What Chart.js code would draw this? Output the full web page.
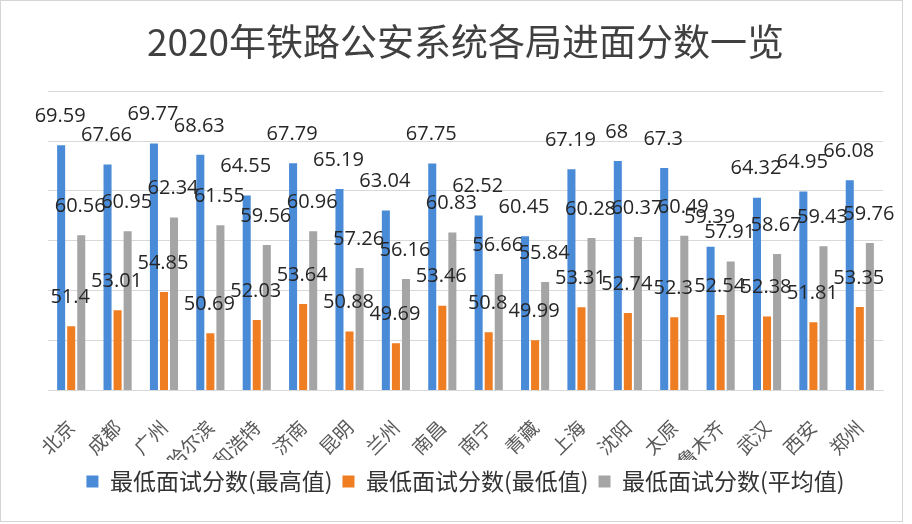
<!DOCTYPE html>
<html>
<head>
<meta charset="utf-8">
<script src="https://cdn.jsdelivr.net/npm/chart.js@4"></script>
<style>
  html, body { margin: 0; padding: 0; background: #ffffff; }
  #wrap { width: 912px; height: 524px; position: relative; }
</style>
</head>
<body>
<div id="wrap"><canvas id="c" width="912" height="524"></canvas></div>
<script>
const title = "2020年铁路公安系统各局进面分数一览";
const categories = ["北京","成都","广州","哈尔滨","呼和浩特","济南","昆明","兰州","南昌","南宁","青藏","上海","沈阳","太原","乌鲁木齐","武汉","西安","郑州"];
const seriesNames = ["最低面试分数(最高值)","最低面试分数(最低值)","最低面试分数(平均值)"];
const maxValues = [69.59,67.66,69.77,68.63,64.55,67.79,65.19,63.04,67.75,62.52,60.45,67.19,68,67.3,59.39,64.32,64.95,66.08];
const minValues = [51.4,53.01,54.85,50.69,52.03,53.64,50.88,49.69,53.46,50.8,49.99,53.31,52.74,52.3,52.54,52.38,51.81,53.35];
const avgValues = [60.56,60.95,62.34,61.55,59.56,60.96,57.26,56.16,60.83,56.66,55.84,60.28,60.37,60.49,57.91,58.67,59.43,59.76];
const yMin = 45, yMax = 75, yStep = 5;

const colors = ["#4a8bd8", "#ef7d22", "#a5a5a5"];

const frame = {
  id: 'frame',
  beforeDraw(chart) {
    const ctx = chart.ctx;
    ctx.save();
    ctx.fillStyle = '#ffffff';
    ctx.fillRect(0, 0, chart.width, chart.height);
    ctx.strokeStyle = '#d4d4d4';
    ctx.lineWidth = 1;
    ctx.strokeRect(0.5, 0.5, 902, 521);
    ctx.restore();
  }
};

const valueLabels = {
  id: 'valueLabels',
  afterDatasetsDraw(chart) {
    const ctx = chart.ctx;
    ctx.save();
    ctx.font = '20px "Open Sans"';
    ctx.fillStyle = '#262626';
    ctx.textAlign = 'center';
    ctx.textBaseline = 'bottom';
    chart.data.datasets.forEach((ds, di) => {
      const meta = chart.getDatasetMeta(di);
      meta.data.forEach((bar, i) => {
        ctx.fillText(String(ds.data[i]), bar.x - 1, bar.y - 19);
      });
    });
    ctx.restore();
  }
};

new Chart(document.getElementById('c'), {
  type: 'bar',
  data: {
    labels: categories,
    datasets: [
      { label: seriesNames[0], data: maxValues, backgroundColor: colors[0] },
      { label: seriesNames[1], data: minValues, backgroundColor: colors[1] },
      { label: seriesNames[2], data: avgValues, backgroundColor: colors[2] }
    ]
  },
  options: {
    responsive: false,
    animation: false,
    layout: { padding: { left: 48, right: 29, top: 0, bottom: 21 } },
    datasets: { bar: { categoryPercentage: 0.65, barPercentage: 0.8 } },
    plugins: {
      title: {
        display: true,
        text: title,
        color: '#404040',
        font: { family: '"Noto Sans CJK SC"', size: 37, weight: 'normal' },
        padding: { top: 20, bottom: 27 }
      },
      legend: {
        position: 'bottom',
        labels: {
          color: '#333333',
          font: { family: '"Noto Sans CJK SC"', size: 23 },
          boxWidth: 12,
          boxHeight: 12,
          padding: 10
        }
      },
      tooltip: { enabled: false }
    },
    scales: {
      x: {
        grid: { display: false, drawTicks: false },
        border: { display: true, color: '#d9d9d9' },
        ticks: {
          color: '#595959',
          font: { family: '"Noto Sans CJK SC"', size: 19 },
          minRotation: 45,
          maxRotation: 45,
          autoSkip: false,
          padding: 26
        },
        afterFit(scale) { scale.height = 70; }
      },
      y: {
        min: yMin,
        max: yMax,
        ticks: { display: false, stepSize: yStep },
        grid: { color: '#d9d9d9', drawTicks: false },
        border: { display: false }
      }
    }
  },
  plugins: [frame, valueLabels]
});
</script>
</body>
</html>
